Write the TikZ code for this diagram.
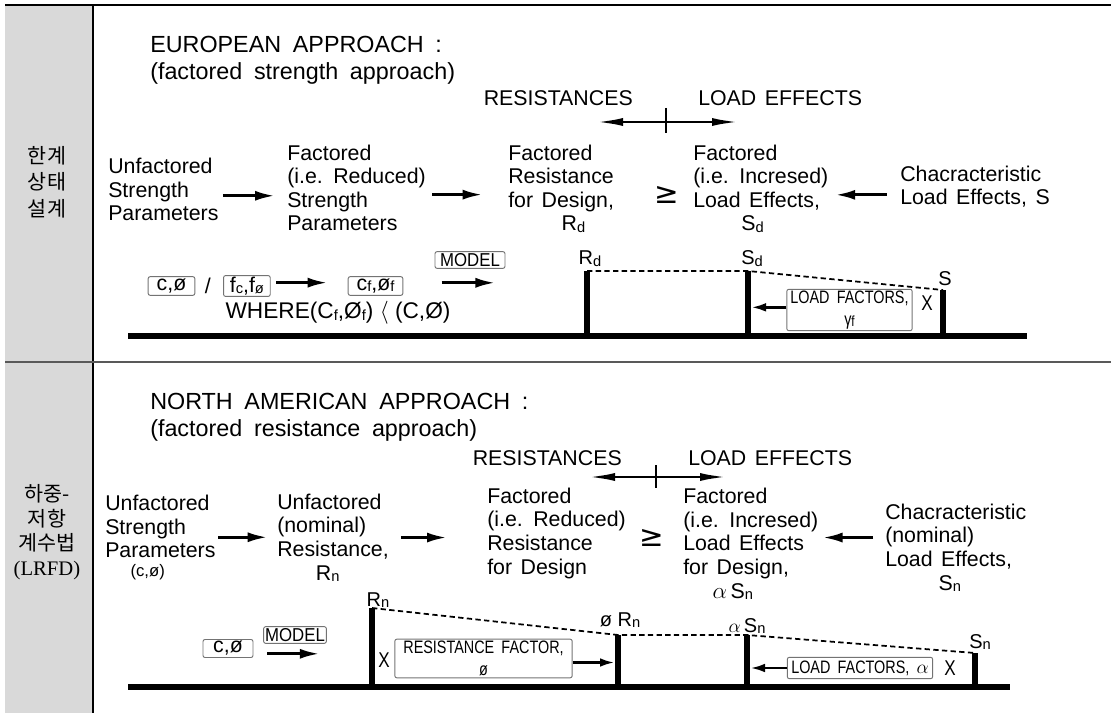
\documentclass[tikz,border=0pt]{standalone}
\usepackage{fontspec}
\setmainfont{Liberation Sans}
\newfontfamily\korfont{Noto Sans CJK KR}
\newfontfamily\serfont{Liberation Serif}
\newfontfamily\symfont{DejaVu Sans}
\newfontfamily\cndfont{Liberation Sans}[FakeStretch=0.9]
\newfontfamily\ncdfont{Liberation Sans}[FakeStretch=0.8]
\usetikzlibrary{arrows.meta,positioning,calc}
\newcommand{\myunit}{0.75pt}
\newcommand{\sbs}[1]{\raisebox{-1pt}{\fontsize{11}{11}\selectfont #1}}
\newcommand{\ttlfont}{\fontsize{17.5}{20.25}\selectfont\spaceskip=0.5em\relax}
\newcommand{\txtfont}{\fontsize{16}{17.7}\selectfont\spaceskip=0.4em\relax}
\newcommand{\boxfont}{\ncdfont\fontsize{13.5}{16}\selectfont\spaceskip=0.4em\relax}
\newcommand{\xmark}{{\ncdfont\fontsize{16}{16}\selectfont X}}
\definecolor{colgray}{HTML}{D9D9D9}
\colorlet{boxgray}{black!55}
\tikzset{
    ttlsty/.style={anchor=base west,align=left,inner sep=0pt,font=\ttlfont},
    txtsty/.style={anchor=base west,align=left,inner sep=0pt,font=\txtfont},
    korsty/.style={align=center,inner sep=0pt,font=\korfont\fontsize{15.5}{20}\selectfont},
    geqsty/.style={inner sep=0pt,font=\symfont\fontsize{22}{22}\selectfont},
    lblsty/.style={anchor=base,inner sep=0pt,font=\fontsize{15}{15}\selectfont},
    boxsty/.style={draw=boxgray,rounded corners=1.5pt,line width=0.7pt,inner sep=1pt,align=center,font=\boxfont},
    vbxsty/.style={boxsty,font=\fontsize{16}{16}\selectfont},
    mdlsty/.style={boxsty,font=\cndfont\fontsize{14}{14}\selectfont,minimum height=12.5pt},
    crsty/.style={inner sep=0pt},
    arrsty/.style={line width=2.3pt,-{Latex[length=15pt,width=7.5pt]}},
    sarrsty/.style={line width=2pt,-{Latex[length=11pt,width=6.5pt]}},
    dblsty/.style={line width=2.2pt,{Latex[length=21pt,width=6pt]}-{Latex[length=21pt,width=6pt]}},
    ticksty/.style={line width=2pt},
    barsty/.style={line width=4.5pt},
    basesty/.style={line width=3.8pt},
    dashsty/.style={dashed,line width=1.3pt,dash pattern=on 4pt off 2.5pt},
}

\begin{document}
\begin{tikzpicture}[x=\myunit,y=-\myunit]
  \useasboundingbox (0,0) rectangle (1111,713);

  % table frame
  \fill[colgray] (5,5) rectangle (93,713);
  \draw[line width=0.8pt] (93,5) -- (93,713);
  \draw[line width=2.2pt] (5,5) -- (1111,5);
  \draw[line width=1.1pt,black!65] (5,362) -- (1111,362);

  \node[korsty] (kr1) at (47,182) {한계\\상태\\설계};
  \node[korsty,font=\korfont\fontsize{15.5}{18.5}\selectfont] (kr2) at (47,532)
       {하중-\\저항\\계수법\\{\serfont (LRFD)}};

  %%% european approach
  \node[ttlsty] (euttl) at (150,80) {EUROPEAN APPROACH :\\(factored strength approach)};
  \node[txtsty,anchor=base east] (res1) at (633,106) {RESISTANCES};
  \node[txtsty] (lde1) at (698,106) {LOAD EFFECTS};
  \coordinate (mid1) at (666,122);
  \draw[dblsty] ($(mid1)+(-71,0)$) -- ($(mid1)+(74,0)$);
  \draw[ticksty] ($(mid1)+(0,-14)$) -- ($(mid1)+(0,11)$);

  \node[txtsty] (usp1) at (108,221) {Unfactored\\Strength\\Parameters};
  \node[txtsty] (fsp1) at (287,231) {Factored\\(i.e. Reduced)\\Strength\\Parameters};
  \node[txtsty] (frd1) at (508,231) {Factored\\Resistance\\for Design,\\\hspace*{40pt}R\sbs{d}};
  \node[geqsty] (geq1) at (667,195) {≥};
  \node[txtsty] (fls1) at (693,231) {Factored\\(i.e. Incresed)\\Load Effects,\\\hspace*{36pt}S\sbs{d}};
  \node[txtsty] (cle1) at (900,205) {Chacracteristic\\Load Effects, S};

  \draw[arrsty,shorten <=3pt,shorten >=9pt] ([yshift=-4.5pt]usp1.east) -- ([yshift=-4.5pt]usp1.east -| fsp1.west);
  \draw[arrsty,shorten <=4.5pt,shorten >=19pt] ([yshift=-5pt]fsp1.east) -- ([yshift=-5pt]fsp1.east -| frd1.west);
  \draw[arrsty,shorten <=10pt,shorten >=5pt] ([yshift=-6pt]cle1.west) -- ([yshift=-6pt]cle1.west -| fls1.east);

  % factor boxes
  \node[vbxsty,minimum width=35pt,minimum height=14pt] (cp1) at (171.5,286) {c,ø};
  \node[txtsty,anchor=west,right=7pt of cp1] (sl1) {/};
  \node[vbxsty,minimum width=35pt,minimum height=14pt,right=9pt of sl1] (fc1) {f\sbs{c},f\sbs{ø}};
  \node[vbxsty,minimum width=41pt,minimum height=14pt] (cf1) at (375.5,286) {c\sbs{f},ø\sbs{f}};
  \draw[arrsty,shorten <=4pt,shorten >=15pt] ([yshift=2.5pt]fc1.east) -- ([yshift=2.5pt]fc1.east -| cf1.west);
  \node[mdlsty,minimum width=52.5pt] (mdl1) at (470,260) {MODEL};
  \draw[arrsty] ($(mdl1.south west)+(7,14)$) -- ($(mdl1.south east)+(-10,14)$);
  \node[txtsty,anchor=center,font=\fontsize{17}{17}\selectfont] (whr1) at (338,313)
       {WHERE(C\sbs{f},Ø\sbs{f}) $\langle$ (C,Ø)};

  % resistance / load axis
  \coordinate (bs1w) at (128,336);
  \coordinate (bs1e) at (1027,336);
  \coordinate (Rd) at (587,271);
  \coordinate (Sd) at (748,271);
  \coordinate (S) at (943,290);
  \draw[basesty] (bs1w) -- (bs1e);
  \foreach \p in {Rd,Sd,S}
    \draw[barsty] (\p) -- (\p |- bs1w);
  \draw[dashsty] (Rd) -- (Sd) -- (S);
  \node[lblsty] (lRd) at ($(Rd)+(3,-6)$) {R\sbs{d}};
  \node[lblsty] (lSd) at ($(Sd)+(4,-6)$) {S\sbs{d}};
  \node[lblsty] (lS) at ($(S)+(2,-4)$) {S};

  \node[boxsty,minimum width=94pt,minimum height=31pt] (lf1) at (849.5,310) {LOAD FACTORS,\\γ\sbs{f}};
  \node[crsty] (x1) at (927,303) {\xmark};
  \draw[sarrsty,shorten >=2.5pt] ([yshift=2pt]lf1.west) -- ([yshift=2pt]lf1.west -| Sd);

  %%% north american approach
  \node[ttlsty] (nattl) at (150,436) {NORTH AMERICAN APPROACH :\\(factored resistance approach)};
  \node[txtsty,anchor=base east] (res2) at (622,465) {RESISTANCES};
  \node[txtsty] (lde2) at (688,465) {LOAD EFFECTS};
  \coordinate (mid2) at (656,477);
  \draw[dblsty] ($(mid2)+(-69,0)$) -- ($(mid2)+(72,0)$);
  \draw[ticksty] ($(mid2)+(0,-12)$) -- ($(mid2)+(0,11)$);

  \node[txtsty] (usp2) at (105,576) {Unfactored\\Strength\\Parameters\\[-4pt]\hspace*{19pt}{\fontsize{12.5}{12.5}\selectfont (c,ø)}};
  \node[txtsty] (unr2) at (277,580) {Unfactored\\(nominal)\\Resistance,\\\hspace*{29pt}R\sbs{n}};
  \node[txtsty] (frd2) at (487,574) {Factored\\(i.e. Reduced)\\Resistance\\for Design};
  \node[geqsty] (geq2) at (652,538) {≥};
  \node[txtsty] (fls2) at (683,598) {Factored\\(i.e. Incresed)\\Load Effects\\for Design,\\\hspace*{22pt}$\alpha$\,S\sbs{n}};
  \node[txtsty] (cle2) at (885,590) {Chacracteristic\\(nominal)\\Load Effects,\\\hspace*{40pt}S\sbs{n}};

  \draw[arrsty,shorten <=2pt,shorten >=7pt] (usp2.east) -- (usp2.east -| unr2.west);
  \draw[arrsty,shorten <=9pt,shorten >=30pt] (unr2.east) -- (unr2.east -| frd2.west);
  \draw[arrsty,shorten <=9pt,shorten >=3pt] ([yshift=7.5pt]cle2.west) -- ([yshift=7.5pt]cle2.west -| fls2.east);

  \node[vbxsty,minimum width=37.5pt,minimum height=13.5pt] (cp2) at (228,648.5) {c,ø};
  \node[mdlsty,minimum width=47pt] (mdl2) at (295,635) {MODEL};
  \draw[arrsty] ($(mdl2.south west)+(4,10)$) -- ($(mdl2.south east)+(-7,10)$);

  \coordinate (bs2w) at (128,687);
  \coordinate (bs2e) at (1010,687);
  \coordinate (Rn) at (372,608);
  \coordinate (pRn) at (618,635);
  \coordinate (aSn) at (747,635);
  \coordinate (Sn) at (975,653);
  \draw[basesty] (bs2w) -- (bs2e);
  \foreach \p in {Rn,pRn,aSn,Sn}
    \draw[barsty] (\p) -- (\p |- bs2w);
  \draw[dashsty] (Rn) -- (pRn) -- (aSn) -- (Sn);
  \node[lblsty] (lRn) at ($(Rn)+(6,-2)$) {R\sbs{n}};
  \node[lblsty] (lpRn) at ($(pRn)+(2,-9)$) {ø R\sbs{n}};
  \node[lblsty] (laSn) at ($(aSn)+(0,-3)$) {$\alpha$\,S\sbs{n}};
  \node[lblsty] (lSn) at ($(Sn)+(5,-5)$) {S\sbs{n}};

  \node[crsty] (x2) at (384,660) {\xmark};
  \node[boxsty,minimum width=133pt,minimum height=29pt] (rf2) at (483.5,658.5) {RESISTANCE FACTOR,\\ø};
  \draw[sarrsty,shorten >=2.5pt] ([yshift=-3pt]rf2.east) -- ([yshift=-3pt]rf2.east -| pRn);
  \node[boxsty,minimum width=109pt,minimum height=16pt] (lf2) at (860,668) {LOAD FACTORS, $\alpha$};
  \node[crsty] (x3) at (950,668) {\xmark};
  \draw[sarrsty,shorten >=2.5pt] (lf2.west) -- (lf2.west -| aSn);
\end{tikzpicture}
\end{document}
